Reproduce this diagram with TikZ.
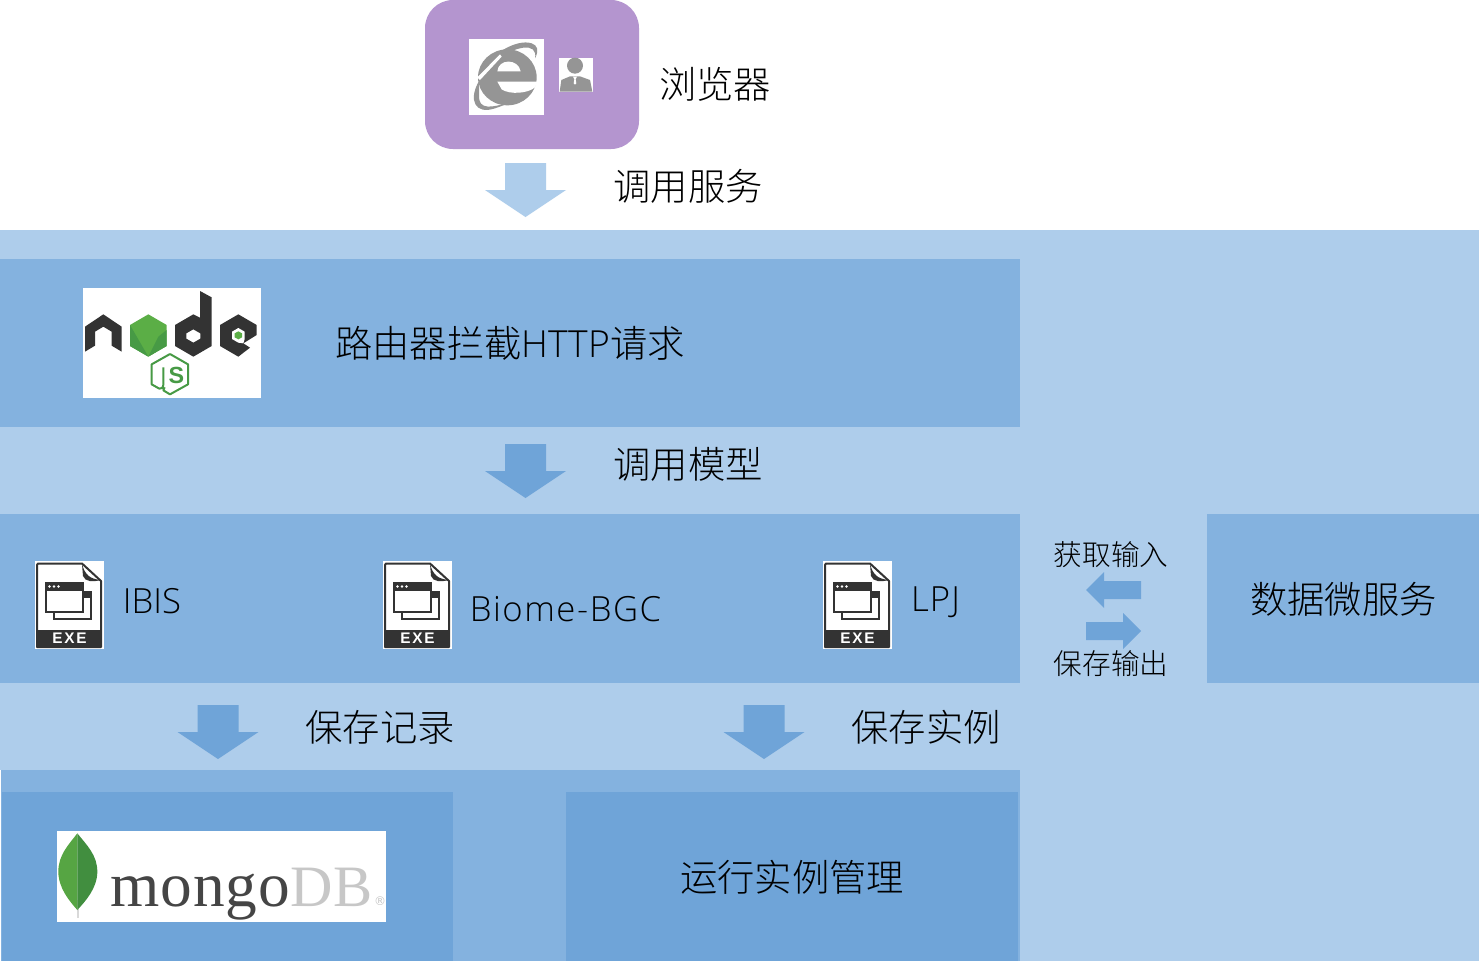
\documentclass[tikz,border=0pt]{standalone}
\usepackage{fontspec}
\newfontfamily\cjk{Noto Sans CJK SC Light}
\newfontfamily\lat{Open Sans Light}
\newfontfamily\serifl{Liberation Serif}
\newfontfamily\boldl{Liberation Sans Bold}[LetterSpace=12]
\definecolor{bandc}{HTML}{AECDEB}
\definecolor{panelc}{HTML}{84B2DF}
\definecolor{deepc}{HTML}{6FA4D8}
\definecolor{purp}{HTML}{B495CF}
\definecolor{greyi}{HTML}{959595}
\definecolor{darkn}{HTML}{333333}
\definecolor{greenn}{HTML}{5BAE46}
\definecolor{greenj}{HTML}{479A45}
\tikzset{
  big/.style={font=\fontsize{28pt}{32pt}\selectfont\cjk,text=black,inner sep=0pt,anchor=center},
  small/.style={font=\fontsize{21.5pt}{26pt}\selectfont\cjk,text=black,inner sep=0pt,anchor=center},
  latin/.style={font=\fontsize{26pt}{32pt}\selectfont\lat,text=black,inner sep=0pt,anchor=center},
  exeicon/.pic={
    \fill[white] (0,0) rectangle (69,88);
    \draw[darkn,line width=1.5pt,line join=round] (2,86) -- (2,4) -- (3,2.5) -- (47,2.5) -- (66,20) -- (66,86) -- cycle;
    \fill[darkn] (47,3) .. controls (50,14) and (55,18) .. (66,19) .. controls (58,21) and (50,21) .. (48,15) -- cycle;
    \fill[darkn] (2,69) rectangle (66,86.5);
    \node[inner sep=0pt,text=white,font=\fontsize{11.5pt}{12pt}\selectfont\boldl] (-lbl) at (34.5,76.8) {EXE};
    \draw[darkn,line width=1.1pt] (19,50) -- (19,58) -- (56,58) -- (56,31) -- (48,31);
    \fill[darkn] (48,30) rectangle (57,37);
    \draw[darkn,line width=1.2pt,fill=white] (11,22) rectangle (48,51);
    \fill[darkn] (11,22) rectangle (48,29.5);
    \fill[white] (14.5,25.5) circle (1.3) (19,25.5) circle (1.3) (23.5,25.5) circle (1.3);
  }
}
\newcommand{\blockdown}[3]{% centre x, top y, colour
  \fill[#3] ({#1-20.5},#2) -- ({#1+20.5},#2) -- ({#1+20.5},{#2+27}) -- ({#1+40.5},{#2+27}) -- (#1,{#2+54}) -- ({#1-40.5},{#2+27}) -- ({#1-20.5},{#2+27}) -- cycle;
}
\begin{document}
\begin{tikzpicture}[x=0.75pt,y=-0.75pt]
\useasboundingbox (0,0) rectangle (1479,961);
\fill[white] (0,0) rectangle (1479,961);
% bands and panels
\fill[bandc] (0,230) rectangle (1479,961);
\fill[white] (0,770) rectangle (1,961);
\fill[panelc] (0,259) rectangle (1020,427);
\fill[panelc] (0,514) rectangle (1020,683);
\fill[panelc] (1207,514) rectangle (1479,683);
\fill[panelc] (1,770) rectangle (1020,961);
\fill[deepc] (2,792) rectangle (453,961);
\fill[deepc] (566,792) rectangle (1018,961);
\fill[purp,rounded corners=21pt] (425,0) -- (425,149) -- (639,149) -- (639,0) -- cycle;
% IE + user
\begin{scope}[shift={(420,0)},x=0.25pt,y=-0.25pt]
  \fill[white] (147,117) rectangle (372,345);
  \fill[greyi] (262,232) ellipse [x radius=88,y radius=84];
  \fill[white] (232,214) .. controls (235,175) and (295,175) .. (302,214) -- cycle;
  \fill[white] (232,245) -- (352,245) -- (345,262) .. controls (325,280) and (270,285) .. (245,268) -- cycle;
  \fill[greyi] (180,222) .. controls (205,165) and (290,115) .. (335,130) .. controls (352,136) and (358,150) .. (345,175) .. controls (350,150) and (335,140) .. (310,143) .. controls (265,150) and (210,185) .. (180,222) -- cycle;
  \fill[greyi] (176,245) .. controls (145,300) and (165,345) .. (225,325) .. controls (245,318) and (262,312) .. (275,305) .. controls (240,315) and (185,335) .. (178,300) .. controls (175,285) and (180,265) .. (176,245) -- cycle;
  \fill[white] (172,232) -- (240,163) -- (245,170) -- (180,240) -- cycle;
  \fill[white] (417,174) rectangle (519,276);
  \fill[greyi] (465,197) circle (24);
  \fill[greyi] (419,275) -- (424,240) -- (450,229) -- (480,229) -- (510,240) -- (517,275) -- cycle;
  \fill[white] (459,230) -- (471,230) -- (467,238) -- (469,250) -- (465,254) -- (461,250) -- (463,238) -- cycle;
\end{scope}
% node.js logo
\begin{scope}[shift={(70,280)},x=0.25pt,y=-0.25pt]
  \fill[white] (39,24) rectangle (573,354);
  \fill[darkn] (45,140) -- (100,103) -- (155,140) -- (155,215) -- (125,197) -- (125,155) -- (100,140) -- (75,155) -- (75,197) -- (45,215) -- cycle;
  \fill[greenn] (235,103) -- (290,135) -- (290,198) -- (235,230) -- (180,198) -- (180,135) -- cycle;
  \fill[greenj] (180,135) -- (235,230) -- (180,198) -- cycle;
  \fill[greenj] (235,230) -- (290,198) -- (290,150) -- (265,170) -- cycle;
  \fill[darkn,even odd rule] (390,33) -- (425,52) -- (425,198) -- (370,230) -- (315,198) -- (315,135) -- (370,103) -- (390,113) -- cycle
    (370,148) -- (391,160) -- (391,176) -- (370,188) -- (349,176) -- (349,160) -- cycle;
  \fill[darkn] (505,103) -- (560,135) -- (560,165) -- (520,190) -- (540,203) -- (505,230) -- (450,198) -- (450,135) -- cycle;
  \fill[white] (505,144) -- (524,155) -- (524,177) -- (520,190) -- (505,188) -- (486,177) -- (486,155) -- cycle;
  \fill[greenn] (505,154) -- (516,160) -- (516,172) -- (505,178) -- (494,172) -- (494,160) -- cycle;
  \draw[greenj,line width=1.5pt,line join=round] (300,222) -- (354,253) -- (354,313) -- (300,343) -- (280,331) -- (284,322)
     (300,222) -- (245,253) -- (245,313) -- (268,326) .. controls (282,326) and (280,315) .. (280,305) -- (280,262);
  \node[inner sep=0pt,text=greenj,font=\fontsize{17.5pt}{18pt}\selectfont\fontspec{Liberation Sans Bold}] (jsS) at (319,287) {S};
\end{scope}
% exe icons
\pic (exeA) at (35,561) {exeicon};
\pic (exeB) at (383,561) {exeicon};
\pic (exeC) at (823,561) {exeicon};
% mongo logo
\begin{scope}[shift={(45,820)},x=0.25pt,y=-0.25pt]
  \fill[white] (36,33) rectangle (1023,305);
  \fill[black!15!white] (95,240) rectangle (101,295);
  \fill[greenn!95!black] (97,40) .. controls (70,75) and (40,105) .. (40,155) .. controls (40,205) and (75,245) .. (97,270) -- cycle;
  \fill[greenj!92!black] (97,40) .. controls (125,75) and (157,105) .. (157,155) .. controls (157,205) and (120,245) .. (97,270) -- cycle;
  \node[anchor=base west,inner sep=0pt,text=black!73,font=\fontsize{47.5pt}{50pt}\selectfont\serifl\addfontfeature{LetterSpace=1.5}] (mg) at (195,258) {mongo};
  \node[anchor=base west,inner sep=0pt,text=black!22,font=\fontsize{44pt}{50pt}\selectfont\serifl] (db) at (737,258) {DB};
  \node[inner sep=0pt,text=black!22,font=\fontsize{9pt}{10pt}\selectfont\fontspec{DejaVu Sans}] (reg) at (1005,243) {®};
\end{scope}
% block arrows
\blockdown{525.5}{163}{bandc}
\blockdown{525.5}{444}{deepc}
\blockdown{218}{705}{deepc}
\blockdown{764}{705}{deepc}
\fill[deepc] (1086,590) -- (1104,572) -- (1104,581) -- (1141,581) -- (1141,599) -- (1104,599) -- (1104,608) -- cycle;
\fill[deepc] (1141,631) -- (1123,613) -- (1123,622) -- (1086,622) -- (1086,640) -- (1123,640) -- (1123,649) -- cycle;
% labels
\node[big] (browser) at (715,84) {浏览器};
\node[big] (callsvc) at (688,186) {调用服务};
\node[big] (router) at (510,343) {路由器拦截{\lat HTTP}请求};
\node[big] (callmod) at (688,464) {调用模型};
\node[latin] (ibis) at (152,601) {IBIS};
\node[latin,font=\fontsize{26pt}{32pt}\selectfont\lat\addfontfeature{LetterSpace=4.5}] (biome) at (565.5,609) {Biome-BGC};
\node[latin,font=\fontsize{26pt}{32pt}\selectfont\lat\addfontfeature{LetterSpace=3}] (lpj) at (935.5,602) {LPJ};
\node[small] (getin) at (1111,555) {获取输入};
\node[small] (saveout) at (1111,664) {保存输出};
\node[big] (datasvc) at (1343.5,599) {数据微服务};
\node[big] (saverec) at (380,727) {保存记录};
\node[big] (saveinst) at (926,727) {保存实例};
\node[big] (runmgr) at (792,877) {运行实例管理};
\end{tikzpicture}
\end{document}
